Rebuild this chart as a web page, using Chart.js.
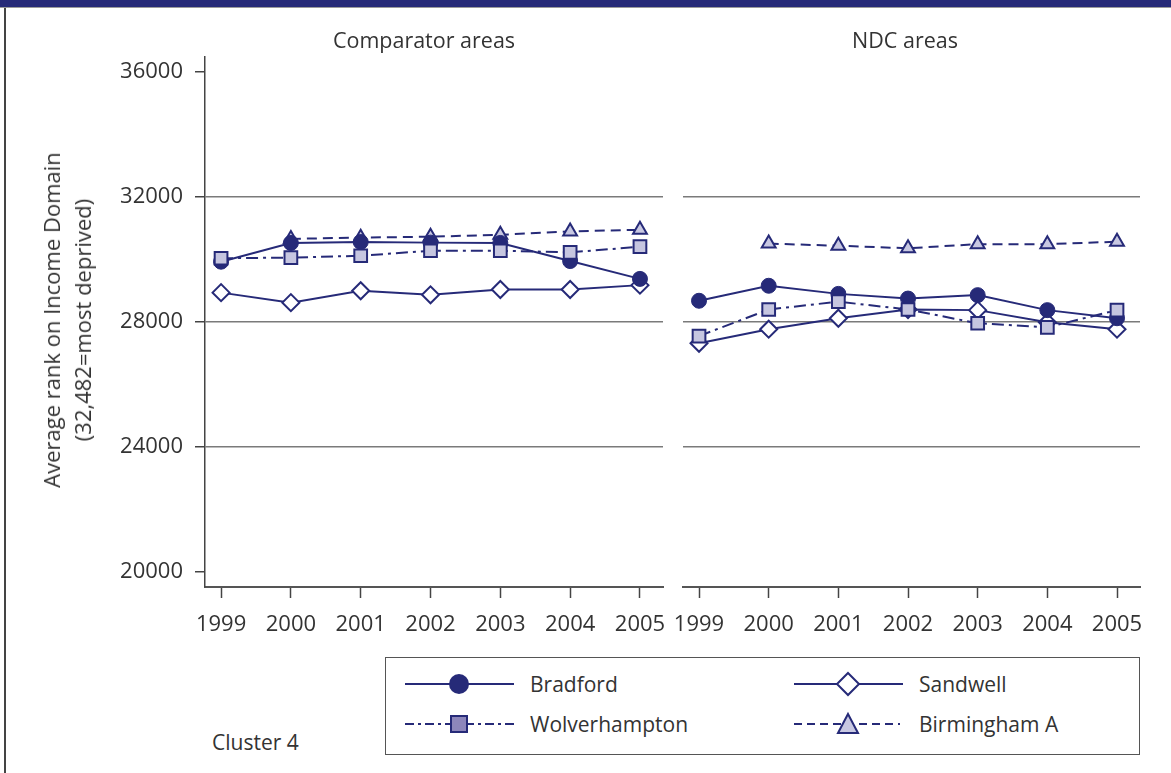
<!DOCTYPE html>
<html lang="en">
<head>
<meta charset="UTF-8">
<title>Average rank on Income Domain - Cluster 4</title>
<script src="https://cdn.jsdelivr.net/npm/chart.js@4.4.1/dist/chart.umd.min.js"></script>
<style>
  body { margin: 0; background: #fff; font-family: "Open Sans", sans-serif; color: #333; }
  #page { position: relative; width: 1171px; height: 773px; overflow: hidden; }
  .band { position: absolute; left: 0; top: 0; width: 1171px; height: 7px; background: #262a78; border-bottom: 1px solid #9a9a9a; }
  .frame-left { position: absolute; left: 4px; top: 8px; width: 1.5px; height: 765px; background: #444; }
  .panel-title { position: absolute; top: 25px; font-size: 21.5px; transform: translateX(-50%); white-space: nowrap; }
  .ytitle { position: absolute; left: 67px; top: 320px; font-size: 22px; line-height: 31px; text-align: center;
            white-space: nowrap; transform: translate(-50%, -50%) rotate(-90deg); }
  canvas { position: absolute; top: 0; }
  #legend { position: absolute; left: 385px; top: 657px; width: 755px; height: 98px; border: 1.5px solid #555; box-sizing: border-box; }
  #legend svg { position: absolute; left: 0; top: 0; }
  .lg { position: absolute; font-size: 21px; transform: translateY(-50%); white-space: nowrap; }
  .cluster { position: absolute; left: 212px; top: 728px; font-size: 21px; }
</style>
</head>
<body>
<div id="page">
  <div class="band"></div>
  <div class="frame-left"></div>

  <canvas id="chart_comp" width="683" height="650" style="left:0;width:683px;height:650px"></canvas>
  <canvas id="chart_ndc" width="508" height="650" style="left:663px;width:508px;height:650px"></canvas>

  <div class="panel-title" style="left:424px">Comparator areas</div>
  <div class="panel-title" style="left:905px">NDC areas</div>
  <div class="ytitle">Average rank on Income Domain<br>(32,482=most deprived)</div>

  <div id="legend">
    <svg width="755" height="98" viewBox="0 0 755 98">
      <!-- Bradford -->
      <line x1="19" y1="26" x2="128" y2="26" stroke="#262a78" stroke-width="2"/>
      <circle cx="73" cy="26" r="10" fill="#262a78"/>
      <!-- Sandwell -->
      <line x1="408" y1="26" x2="517" y2="26" stroke="#262a78" stroke-width="2"/>
      <polygon points="462,15 473,26 462,37 451,26" fill="#fff" stroke="#262a78" stroke-width="2"/>
      <!-- Wolverhampton -->
      <line x1="19" y1="66" x2="128" y2="66" stroke="#262a78" stroke-width="2" stroke-dasharray="9,4,3,4"/>
      <rect x="65" y="58" width="16" height="16" fill="#8d86bb" stroke="#262a78" stroke-width="2"/>
      <!-- Birmingham A -->
      <line x1="408" y1="66" x2="514" y2="66" stroke="#262a78" stroke-width="2" stroke-dasharray="8,5"/>
      <polygon points="462,56 472,75 452,75" fill="#c8c8e2" stroke="#262a78" stroke-width="2"/>
    </svg>
    <div class="lg" style="left:144px;top:26px">Bradford</div>
    <div class="lg" style="left:533px;top:26px">Sandwell</div>
    <div class="lg" style="left:144px;top:66px">Wolverhampton</div>
    <div class="lg" style="left:533px;top:66px">Birmingham A</div>
  </div>

  <div class="cluster">Cluster 4</div>
</div>

<script>
  // data
  const years = [1999, 2000, 2001, 2002, 2003, 2004, 2005];
  const yTicks = [20000, 24000, 28000, 32000, 36000];

  const bradfordComp   = [29930, 30530, 30560, 30540, 30530, 29950, 29380];
  const sandwellComp   = [28940, 28620, 29000, 28870, 29040, 29040, 29180];
  const wolverComp     = [30040, 30060, 30120, 30280, 30280, 30230, 30410];
  const birminghamComp = [null, 30660, 30700, 30730, 30790, 30900, 30950];

  const bradfordNdc   = [28680, 29160, 28900, 28750, 28860, 28380, 28120];
  const sandwellNdc   = [27320, 27770, 28120, 28400, 28380, 27990, 27770];
  const wolverNdc     = [27550, 28400, 28650, 28400, 27960, 27830, 28380];
  const birminghamNdc = [null, 30510, 30440, 30360, 30490, 30490, 30570];

  const navy = '#262a78';

  const toPoints = vals => years.map((yr, i) => ({ x: yr, y: vals[i] }));

  const makeDatasets = (brad, sand, wolv, birm) => [
    {
      label: 'Bradford', data: toPoints(brad), order: 1,
      borderColor: navy, borderWidth: 2,
      pointStyle: 'circle', pointRadius: 7.5, pointBackgroundColor: navy, pointBorderColor: navy, pointBorderWidth: 1
    },
    {
      label: 'Sandwell', data: toPoints(sand), order: 3,
      borderColor: navy, borderWidth: 2,
      pointStyle: 'rectRot', pointRadius: 8.5, pointBackgroundColor: '#fff', pointBorderColor: navy, pointBorderWidth: 2
    },
    {
      label: 'Wolverhampton', data: toPoints(wolv), order: 0,
      borderColor: navy, borderWidth: 2, borderDash: [12, 5, 3, 5],
      pointStyle: 'rect', pointRadius: 9, pointBackgroundColor: '#c6c6e0', pointBorderColor: navy, pointBorderWidth: 2
    },
    {
      label: 'Birmingham A', data: toPoints(birm), order: 2,
      borderColor: navy, borderWidth: 2, borderDash: [10, 6],
      pointStyle: 'triangle', pointRadius: 8, pointBackgroundColor: '#c8c8e2', pointBorderColor: navy, pointBorderWidth: 2
    }
  ];

  const tickFont = { family: 'Open Sans', size: 22 };

  const makeOptions = (showY, yWidth, padRight) => ({
    responsive: false,
    animation: false,
    layout: { padding: { left: 0, right: padRight, top: 57, bottom: 0 } },
    plugins: { legend: { display: false }, tooltip: { enabled: false } },
    datasets: { line: { clip: false, spanGaps: false } },
    scales: {
      x: {
        type: 'linear', min: 1998.77, max: 2005.33,
        afterBuildTicks: s => { s.ticks = years.map(v => ({ value: v })); },
        afterFit: s => { s.height = 63; s.paddingLeft = 0; s.paddingRight = 0; },
        ticks: { font: tickFont, color: '#333', padding: 14, callback: v => String(v), maxRotation: 0 },
        grid: { drawOnChartArea: false, drawTicks: true, tickLength: 11, tickColor: '#444', tickWidth: 1.5 },
        border: { display: true, color: '#555', width: 2 }
      },
      y: {
        min: 19520, max: 36480,
        afterBuildTicks: s => { s.ticks = yTicks.map(v => ({ value: v })); },
        afterFit: s => { s.width = yWidth; },
        ticks: { display: showY, font: tickFont, color: '#333', padding: 12, callback: v => String(v) },
        grid: {
          drawTicks: showY, tickLength: 10, tickColor: '#444', tickWidth: 1.5, lineWidth: 1.5,
          color: ctx => (ctx.tick && (ctx.tick.value === 20000 || ctx.tick.value === 36000)) ? 'rgba(0,0,0,0)' : '#7a7a7a'
        },
        border: { display: showY, color: '#444', width: 1.5 }
      }
    }
  });

  new Chart(document.querySelector('#chart_comp'), {
    type: 'line',
    data: { datasets: makeDatasets(bradfordComp, sandwellComp, wolverComp, birminghamComp) },
    options: makeOptions(true, 205, 20)
  });

  new Chart(document.querySelector('#chart_ndc'), {
    type: 'line',
    data: { datasets: makeDatasets(bradfordNdc, sandwellNdc, wolverNdc, birminghamNdc) },
    options: makeOptions(false, 20, 31)
  });
</script>
</body>
</html>
